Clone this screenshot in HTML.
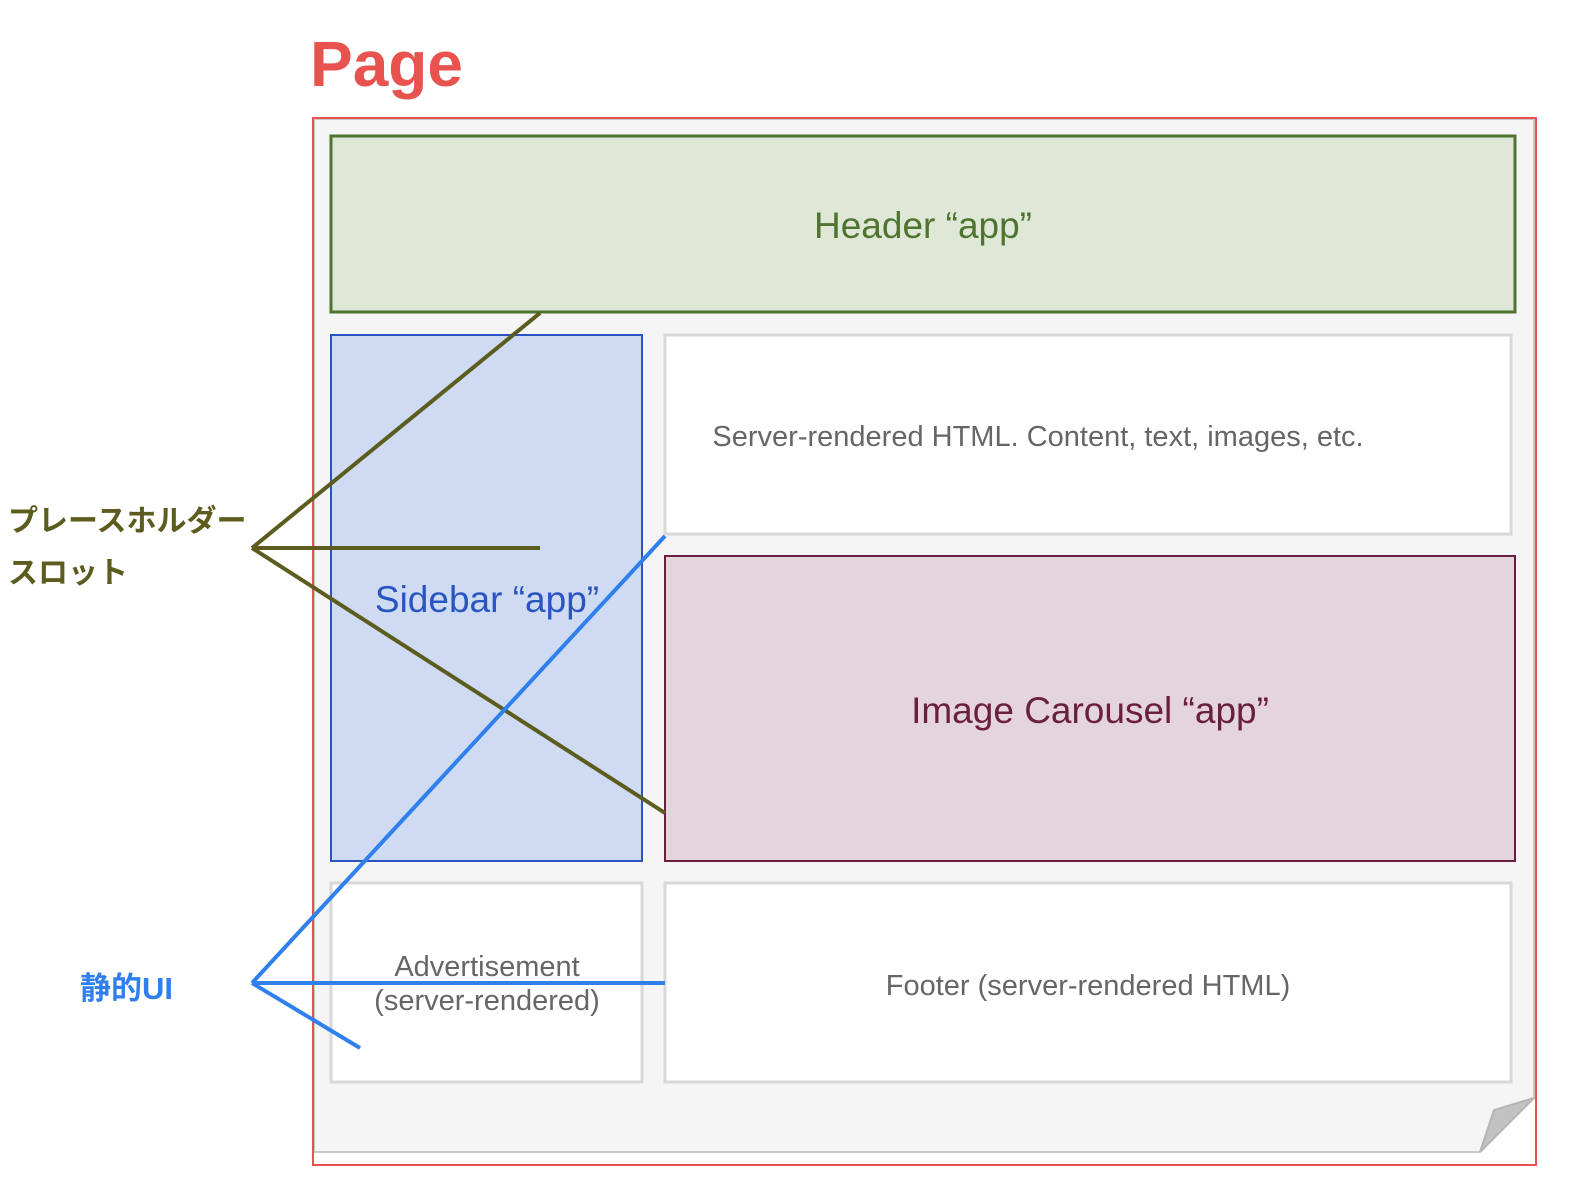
<!DOCTYPE html>
<html><head><meta charset="utf-8"><style>
html,body{margin:0;padding:0;background:#fff;}
svg{display:block;}
text{font-family:"Liberation Sans","Noto Sans CJK JP",sans-serif;}
</style></head><body>
<svg width="1572" height="1194" viewBox="0 0 1572 1194" xmlns="http://www.w3.org/2000/svg">
<text x="310" y="86" font-size="64" font-weight="bold" fill="#e8534f">Page</text>
<path d="M314 119 H1534 V1098 L1480 1152 H314 Z" fill="#f5f5f5" stroke="#c8c8c8" stroke-width="2"/>
<path d="M1534 1098 L1494 1110 L1480 1152 Z" fill="#c2c2c2" stroke="#b5b5b5" stroke-width="2"/>
<rect x="313" y="118" width="1223" height="1047" fill="none" stroke="#e8534f" stroke-width="2"/>
<rect x="331" y="136" width="1184" height="176" fill="#dfe8d6" stroke="#4e7430" stroke-width="3"/>
<text x="923" y="238" font-size="37" fill="#4e7430" text-anchor="middle">Header “app”</text>
<rect x="331" y="335" width="311" height="526" fill="#cfdbf2" stroke="#2a55c0" stroke-width="2"/>
<text x="487" y="612" font-size="37" fill="#2a55c0" text-anchor="middle">Sidebar “app”</text>
<rect x="665" y="335" width="846" height="199" fill="#fff" stroke="#d8d8d8" stroke-width="3"/>
<text x="1038" y="446" font-size="29" fill="#666" text-anchor="middle">Server-rendered HTML. Content, text, images, etc.</text>
<rect x="665" y="556" width="850" height="305" fill="#e4d4db" stroke="#6b1f3e" stroke-width="2"/>
<text x="1090" y="723" font-size="37" fill="#6b1f3e" text-anchor="middle">Image Carousel “app”</text>
<rect x="331" y="883" width="311" height="199" fill="#fff" stroke="#d8d8d8" stroke-width="3"/>
<text x="487" y="976" font-size="29" fill="#666" text-anchor="middle">Advertisement</text>
<text x="487" y="1010" font-size="29" fill="#666" text-anchor="middle">(server-rendered)</text>
<rect x="665" y="883" width="846" height="199" fill="#fff" stroke="#d8d8d8" stroke-width="3"/>
<text x="1088" y="995" font-size="29" fill="#666" text-anchor="middle">Footer (server-rendered HTML)</text>
<g stroke="#5c5c1f" stroke-width="4" fill="none">
<line x1="252" y1="548" x2="540" y2="313"/>
<line x1="252" y1="548" x2="540" y2="548"/>
<line x1="252" y1="548" x2="665" y2="813"/>
</g>
<g stroke="#2f80ed" stroke-width="4" fill="none">
<line x1="252" y1="983" x2="665" y2="536"/>
<line x1="252" y1="983" x2="665" y2="983"/>
<line x1="252" y1="983" x2="360" y2="1048"/>
</g>
<text x="8" y="531" font-size="30" font-weight="bold" fill="#5c5c1f">プレースホルダー</text>
<text x="8" y="583" font-size="30" font-weight="bold" fill="#5c5c1f">スロット</text>
<text x="80" y="999" font-size="31" font-weight="bold" fill="#2f80ed">静的UI</text>
</svg>
</body></html>
